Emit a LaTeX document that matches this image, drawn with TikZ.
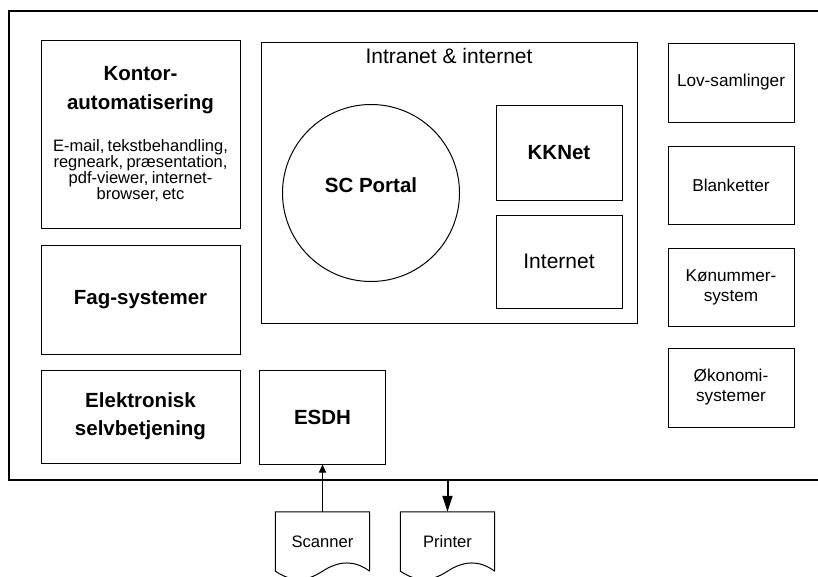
\documentclass[tikz,border=0pt]{standalone}
\usepackage{fontspec}
\setmainfont{Liberation Sans}
\usetikzlibrary{arrows.meta}

\begin{document}
\begin{tikzpicture}[x=1pt,y=-1pt,
    box/.style={shape=rectangle,draw=black,line width=1pt,inner sep=0pt,align=center},
    bold/.style={font=\bfseries\fontsize{20.5}{28}\selectfont},
    plain/.style={font=\fontsize{17.2}{20}\selectfont},
    docnode/.style={shape=rectangle,inner sep=0pt,minimum width=94pt,minimum height=59pt,font=\fontsize{16.6}{20}\selectfont}]
    \useasboundingbox (0,0) rectangle (818,576);

    % outer frame, open to the right
    \draw[line width=1.4pt] (818,11) -- (9,11) -- (9,480) -- (818,480);

    % left column
    \node[box,text width=195pt,minimum width=199pt,minimum height=188pt] (kontor) at (140.5,134) {%
        {\bfseries\fontsize{20.5}{29}\selectfont Kontor-\\automatisering\par}
        \vspace{25pt}
        {\fontsize{16.5}{16}\selectfont E-mail, tekstbehandling,\\regneark, præsentation,\\pdf-viewer, internet-\\browser, etc\par}};
    \node[box,bold,minimum width=199pt,minimum height=109pt] (fag) at (140.5,299.5) {Fag-systemer};
    \node[box,bold,minimum width=199pt,minimum height=93pt] (selvbetjening) at (140.5,416.5) {Elektronisk\\selvbetjening};

    % intranet & internet
    \node[box,minimum width=376pt,minimum height=281pt,
        label={[anchor=north,yshift=-7pt,inner sep=0pt,font=\fontsize{21}{24}\selectfont]north:Intranet \& internet}] (intranet) at (449,182.5) {};
    \node[shape=circle,draw=black,line width=1pt,minimum size=177pt,inner sep=0pt,
        label={[bold,yshift=8pt]center:SC Portal}] (portal) at (371,193) {};
    \node[box,bold,minimum width=126pt,minimum height=95pt] (kknet) at (559,152.5) {KKNet};
    \node[box,font=\fontsize{21}{24}\selectfont,minimum width=126pt,minimum height=93pt] (internet) at (559,261.5) {Internet};

    \node[box,bold,minimum width=126pt,minimum height=94pt] (esdh) at (322.5,417) {ESDH};

    % right column
    \node[box,plain,minimum width=126pt,minimum height=79pt] (lov) at (731,82.5) {Lov-samlinger};
    \node[box,plain,minimum width=126pt,minimum height=78pt] (blanketter) at (731,185) {Blanketter};
    \node[box,plain,minimum width=126pt,minimum height=78pt] (koenummer) at (731,287) {Kønummer-\\system};
    \node[box,plain,minimum width=126pt,minimum height=79pt] (oekonomi) at (731,387.5) {Økonomi-\\systemer};

    % scanner and printer
    \node[docnode] (scanner) at (322.5,541.5) {Scanner};
    \node[docnode] (printer) at (447.5,541.5) {Printer};
    \draw[line width=1pt] (scanner.south east) -- (scanner.north east) -- (scanner.north west) -- (scanner.south west)
        .. controls +(17,11) and +(-17,11) .. (scanner.south) .. controls +(17,-11) and +(-15,-11) .. (scanner.south east);
    \draw[line width=1pt] (printer.south east) -- (printer.north east) -- (printer.north west) -- (printer.south west)
        .. controls +(17,11) and +(-17,11) .. (printer.south) .. controls +(17,-11) and +(-15,-11) .. (printer.south east);

    \coordinate (busout) at (447.5,480);
    \draw[line width=0.9pt,-{Triangle[length=8pt,width=7pt]}] (scanner.north) -- (esdh.south);
    \draw[line width=2pt,-{Triangle[length=16pt,width=10pt]}] (busout) -- (printer.north);
\end{tikzpicture}
\end{document}
